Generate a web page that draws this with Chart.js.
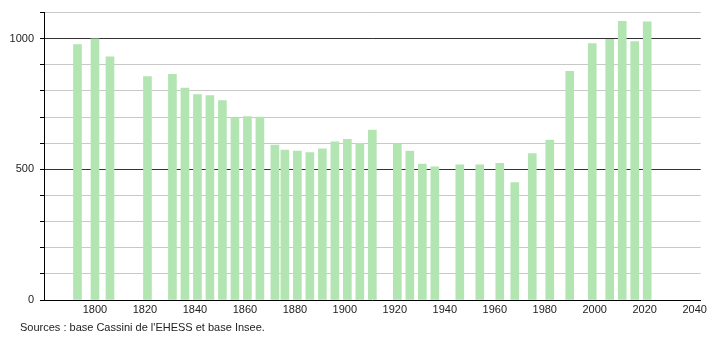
<!DOCTYPE html>
<html>
<head>
<meta charset="utf-8">
<script src="https://cdn.jsdelivr.net/npm/chart.js@4"></script>
<style>
  html, body { margin: 0; padding: 0; background: #fff; }
  #wrap { position: relative; width: 710px; height: 340px; }
  #source { position: absolute; left: 20px; top: 321px; font: 11px "Liberation Sans", Arial, sans-serif; color: #222; }
</style>
</head>
<body>
<div id="wrap">
  <canvas id="popChart" width="710" height="340"></canvas>
  <div id="source">Sources : base Cassini de l'EHESS et base Insee.</div>
</div>
<script>
// census years and population
const years = [1793, 1800, 1806, 1821, 1831, 1836, 1841, 1846, 1851, 1856, 1861, 1866,
  1872, 1876, 1881, 1886, 1891, 1896, 1901, 1906, 1911, 1921, 1926, 1931, 1936,
  1946, 1954, 1962, 1968, 1975, 1982, 1990, 1999, 2006, 2011, 2016, 2021];
const population = [978, 1000, 931, 855, 864, 811, 786, 782, 763, 697, 702, 700,
  593, 574, 570, 564, 579, 605, 615, 600, 650, 598, 570, 520, 510,
  517, 517, 523, 449, 560, 612, 875, 981, 998, 1067, 989, 1065];
const yLabels = [0, 500, 1000];

const points = years.map((y, i) => ({ x: y, y: population[i] }));

const ctx = document.getElementById("popChart").getContext("2d");
new Chart(ctx, {
  type: 'bar',
  data: {
    datasets: [{
      data: points,
      backgroundColor: "#b2e5b2",
      borderWidth: 0,
      barThickness: 8
    }]
  },
  options: {
    responsive: false,
    animation: false,
    layout: { padding: { top: 10, right: 9, left: 0, bottom: 0 } },
    plugins: {
      legend: { display: false },
      tooltip: { enabled: false }
    },
    scales: {
      x: {
        type: 'linear',
        offset: false,
        min: 1779.6,
        max: 2042.4,
        grid: { display: false, drawTicks: false },
        border: { display: true, color: "#000", width: 1 },
        ticks: {
          stepSize: 20,
          includeBounds: false,
          padding: 3,
          color: "#222",
          font: { family: "Liberation Sans", size: 11 },
          callback: v => v >= 1800 ? String(v) : ''
        },
        afterFit: s => { s.height = 40; }
      },
      y: {
        min: 0,
        max: 1100,
        grid: {
          color: c => (c.tick.value === 500 || c.tick.value === 1000) ? "#333" : "#c8c8c8",
          tickColor: "#000",
          tickLength: 4
        },
        border: { display: true, color: "#000", width: 1 },
        ticks: {
          stepSize: 100,
          padding: 6,
          color: "#222",
          font: { family: "Liberation Sans", size: 11 },
          callback: v => yLabels.includes(v) ? String(v) : ''
        },
        afterFit: s => { s.width = 44; }
      }
    }
  }
});
</script>
</body>
</html>
